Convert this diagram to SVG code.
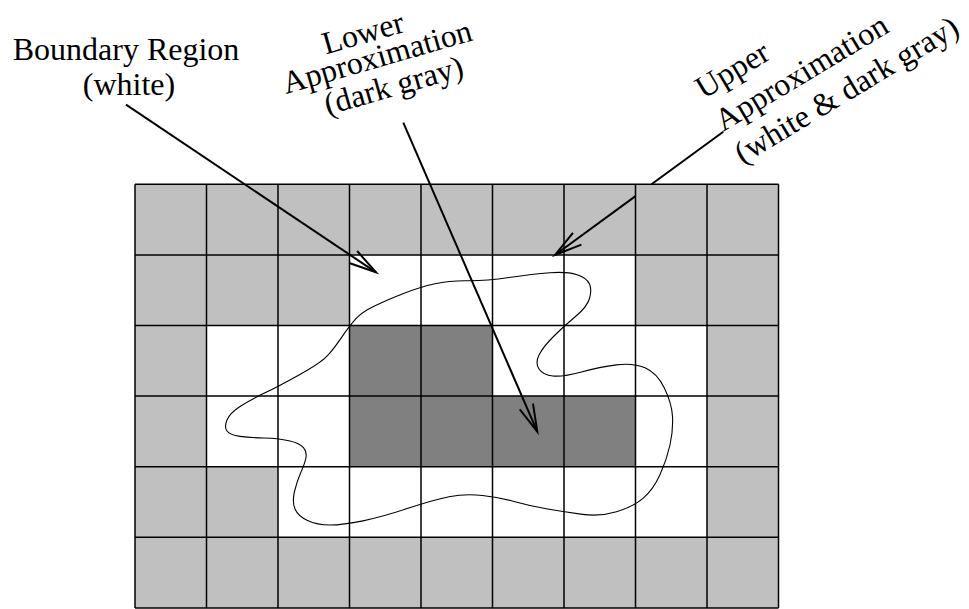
<svg xmlns="http://www.w3.org/2000/svg" width="969" height="609" viewBox="0 0 969 609">
  <style>
    .lt { fill: #c0c0c0; }
    .wh { fill: #ffffff; }
    .dk { fill: #808080; }
    .gridline { fill: none; stroke: #000; stroke-width: 1.5; }
    .label { font-family: "Liberation Serif", "Times New Roman", serif; font-size: 32px; fill: #000; }
    .arrow { fill: none; stroke: #000; stroke-width: 2; marker-end: url(#vhead); }
    .region { fill: none; stroke: #000; stroke-width: 1.1; }
  </style>
  <defs>
    <marker id="vhead" markerUnits="userSpaceOnUse" markerWidth="40" markerHeight="20" refX="0" refY="0" viewBox="-30 -10 32 20" orient="auto" overflow="visible">
      <path d="M -27.5 -7.2 L 0 0 L -27.5 7.2" fill="none" stroke="#000" stroke-width="2"/>
    </marker>
  </defs>

  <rect width="969" height="609" fill="#fff"/>

  <!-- 9 x 6 cell grid: x = 135 + 71.5*i, y = 184.3 + 70.6*j -->
  <g id="grid">
    <!-- row 0 -->
    <rect class="lt" x="135" y="184.3" width="71.5" height="70.6"/>
    <rect class="lt" x="206.5" y="184.3" width="71.5" height="70.6"/>
    <rect class="lt" x="278" y="184.3" width="71.5" height="70.6"/>
    <rect class="lt" x="349.5" y="184.3" width="71.5" height="70.6"/>
    <rect class="lt" x="421" y="184.3" width="71.5" height="70.6"/>
    <rect class="lt" x="492.5" y="184.3" width="71.5" height="70.6"/>
    <rect class="lt" x="564" y="184.3" width="71.5" height="70.6"/>
    <rect class="lt" x="635.5" y="184.3" width="71.5" height="70.6"/>
    <rect class="lt" x="707" y="184.3" width="71.5" height="70.6"/>
    <!-- row 1 -->
    <rect class="lt" x="135" y="254.9" width="71.5" height="70.6"/>
    <rect class="lt" x="206.5" y="254.9" width="71.5" height="70.6"/>
    <rect class="lt" x="278" y="254.9" width="71.5" height="70.6"/>
    <rect class="wh" x="349.5" y="254.9" width="71.5" height="70.6"/>
    <rect class="wh" x="421" y="254.9" width="71.5" height="70.6"/>
    <rect class="wh" x="492.5" y="254.9" width="71.5" height="70.6"/>
    <rect class="wh" x="564" y="254.9" width="71.5" height="70.6"/>
    <rect class="lt" x="635.5" y="254.9" width="71.5" height="70.6"/>
    <rect class="lt" x="707" y="254.9" width="71.5" height="70.6"/>
    <!-- row 2 -->
    <rect class="lt" x="135" y="325.5" width="71.5" height="70.6"/>
    <rect class="wh" x="206.5" y="325.5" width="71.5" height="70.6"/>
    <rect class="wh" x="278" y="325.5" width="71.5" height="70.6"/>
    <rect class="dk" x="349.5" y="325.5" width="71.5" height="70.6"/>
    <rect class="dk" x="421" y="325.5" width="71.5" height="70.6"/>
    <rect class="wh" x="492.5" y="325.5" width="71.5" height="70.6"/>
    <rect class="wh" x="564" y="325.5" width="71.5" height="70.6"/>
    <rect class="wh" x="635.5" y="325.5" width="71.5" height="70.6"/>
    <rect class="lt" x="707" y="325.5" width="71.5" height="70.6"/>
    <!-- row 3 -->
    <rect class="lt" x="135" y="396.1" width="71.5" height="70.6"/>
    <rect class="wh" x="206.5" y="396.1" width="71.5" height="70.6"/>
    <rect class="wh" x="278" y="396.1" width="71.5" height="70.6"/>
    <rect class="dk" x="349.5" y="396.1" width="71.5" height="70.6"/>
    <rect class="dk" x="421" y="396.1" width="71.5" height="70.6"/>
    <rect class="dk" x="492.5" y="396.1" width="71.5" height="70.6"/>
    <rect class="dk" x="564" y="396.1" width="71.5" height="70.6"/>
    <rect class="wh" x="635.5" y="396.1" width="71.5" height="70.6"/>
    <rect class="lt" x="707" y="396.1" width="71.5" height="70.6"/>
    <!-- row 4 -->
    <rect class="lt" x="135" y="466.7" width="71.5" height="70.6"/>
    <rect class="lt" x="206.5" y="466.7" width="71.5" height="70.6"/>
    <rect class="wh" x="278" y="466.7" width="71.5" height="70.6"/>
    <rect class="wh" x="349.5" y="466.7" width="71.5" height="70.6"/>
    <rect class="wh" x="421" y="466.7" width="71.5" height="70.6"/>
    <rect class="wh" x="492.5" y="466.7" width="71.5" height="70.6"/>
    <rect class="wh" x="564" y="466.7" width="71.5" height="70.6"/>
    <rect class="wh" x="635.5" y="466.7" width="71.5" height="70.6"/>
    <rect class="lt" x="707" y="466.7" width="71.5" height="70.6"/>
    <!-- row 5 -->
    <rect class="lt" x="135" y="537.3" width="71.5" height="70.6"/>
    <rect class="lt" x="206.5" y="537.3" width="71.5" height="70.6"/>
    <rect class="lt" x="278" y="537.3" width="71.5" height="70.6"/>
    <rect class="lt" x="349.5" y="537.3" width="71.5" height="70.6"/>
    <rect class="lt" x="421" y="537.3" width="71.5" height="70.6"/>
    <rect class="lt" x="492.5" y="537.3" width="71.5" height="70.6"/>
    <rect class="lt" x="564" y="537.3" width="71.5" height="70.6"/>
    <rect class="lt" x="635.5" y="537.3" width="71.5" height="70.6"/>
    <rect class="lt" x="707" y="537.3" width="71.5" height="70.6"/>

    <path class="gridline" d="M135 184.3V607.9M206.5 184.3V607.9M278 184.3V607.9M349.5 184.3V607.9M421 184.3V607.9M492.5 184.3V607.9M564 184.3V607.9M635.5 184.3V607.9M707 184.3V607.9M778.5 184.3V607.9
      M135 184.3H778.5M135 254.9H778.5M135 325.5H778.5M135 396.1H778.5M135 466.7H778.5M135 537.3H778.5M135 607.9H778.5"/>
  </g>

  <!-- the set being approximated -->
  <g id="set-outline">
    <path class="region" d="M 341.25 337.85
      Q 349.5 325.7 355.75 318.85 Q 362 312 374.5 306 Q 387 300 403.5 293.5 Q 420 287 435 283.75
      Q 450 280.5 467.5 280.75 Q 485 281 509 277.5 Q 533 274 550 272.75 Q 567 271.5 577 274.75
      Q 587 278 589.5 284 Q 592 290 589.5 298.5 Q 587 307 575.5 316.5 Q 564 326 553.5 336.5
      Q 543 347 539 355 Q 535 363 539 369 Q 543 375 553 376 Q 563 377 581.5 372
      Q 600 367 616.5 364.85 Q 633 362.7 645 367.85 Q 657 373 664.35 388 Q 671.7 403 672.5 416.5
      Q 673.3 430 670 445 Q 666.7 460 659.85 475 Q 653 490 643 498.35 Q 633 506.7 616.5 511.7
      Q 600 516.7 582.5 514.35 Q 565 512 547.5 509 Q 530 506 515 501.75 Q 500 497.5 482.5 495.5
      Q 465 493.5 449 496.75 Q 433 500 408 508.35 Q 383 516.7 363 520.85 Q 343 525 330 525
      Q 317 525 307.5 520.5 Q 298 516 295 509 Q 292 502 294.5 491.5 Q 297 481 301 472
      Q 305 463 306 457.5 Q 307 452 303.5 447.65 Q 300 443.3 289 440.8 Q 278 438.3 264 438
      Q 250 437.7 240 436.35 Q 230 435 227 431 Q 224 427 227 420 Q 230 413 240 406.5
      Q 250 400 264 393.35 Q 278 386.7 299 375 Q 320 363.3 326.5 356.65 Q 333 350 341.25 337.85 Z"/>
  </g>

  <!-- callout arrows -->
  <g id="connectors">
    <path id="to-boundary" class="arrow" d="M 126 104.7 L 376 272.3"/>
    <path id="to-lower" class="arrow" d="M 403.3 122.7 L 537.3 431.7"/>
    <path id="to-upper" class="arrow" d="M 723.3 131.7 L 651.5 184.3 M 635.5 196.1 L 555 255"/>
  </g>

  <g id="label-boundary" class="label" text-anchor="middle">
    <text x="126" y="60">Boundary Region</text>
    <text x="129" y="95">(white)</text>
  </g>

  <g id="label-lower" class="label" text-anchor="middle" transform="translate(380 67) rotate(-16)">
    <text x="-7" y="-27">Lower</text>
    <text x="0" y="0">Approximation</text>
    <text x="8" y="32">(dark gray)</text>
  </g>

  <g id="label-upper" class="label" transform="translate(723 132) rotate(-31)">
    <text x="0" y="-38">Upper</text>
    <text x="0" y="0">Approximation</text>
    <text x="0" y="38">(white &amp; dark gray)</text>
  </g>
</svg>
